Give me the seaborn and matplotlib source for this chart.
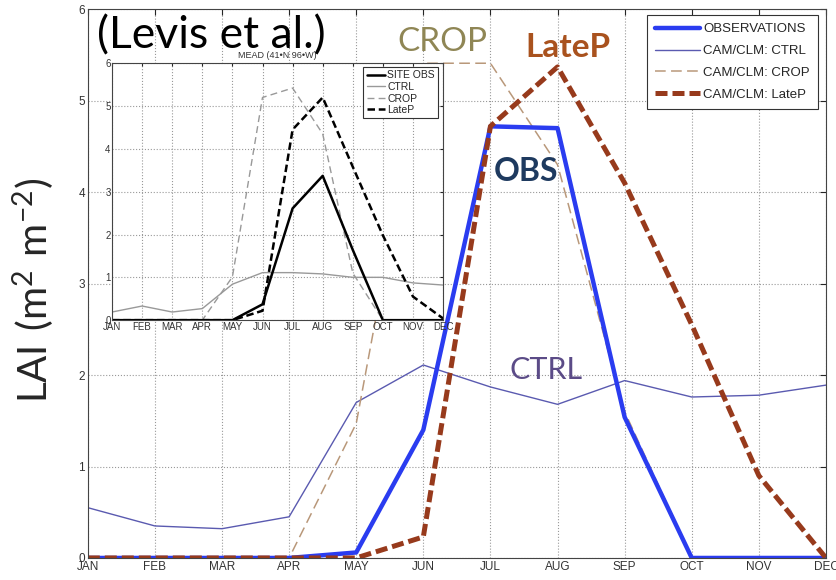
import seaborn as sns
import matplotlib.pyplot as plt
import pandas as pd
from matplotlib.transforms import Bbox, TransformedBbox

months = ['JAN', 'FEB', 'MAR', 'APR', 'MAY', 'JUN', 'JUL', 'AUG', 'SEP', 'OCT', 'NOV', 'DEC']

# main panel (CAM/CLM vs observations)
obs = [0, 0, 0, 0, 0.06, 1.40, 4.72, 4.70, 1.54, 0, 0, 0]
ctrl = [0.55, 0.35, 0.32, 0.45, 1.70, 2.11, 1.87, 1.68, 1.94, 1.76, 1.78, 1.89]
crop = [0, 0, 0, 0, 1.47, 5.41, 5.41, 4.30, 1.60, 0, 0, 0]
latep = [0, 0, 0, 0, 0, 0.23, 4.72, 5.37, 4.10, 2.55, 0.90, 0]

# inset (MEAD site)
site_obs = [0, 0, 0, 0, 0, 0.37, 2.61, 3.37, 1.64, 0, 0, 0]
site_ctrl = [0.19, 0.33, 0.19, 0.27, 0.84, 1.11, 1.11, 1.08, 1.00, 1.00, 0.87, 0.82]
site_crop = [0, 0, 0, 0, 1.01, 5.20, 5.42, 4.35, 1.10, 0, 0, 0]
site_latep = [0, 0, 0, 0, 0, 0.22, 4.45, 5.20, 3.58, 1.98, 0.55, 0.04]

df = pd.DataFrame({'m': range(12), 'obs': obs, 'ctrl': ctrl, 'crop': crop, 'latep': latep})
site = pd.DataFrame({'m': range(12), 'obs': site_obs, 'ctrl': site_ctrl,
                     'crop': site_crop, 'latep': site_latep})

sns.set_style('white')
plt.rcParams['font.family'] = ['Liberation Sans', 'DejaVu Sans']
plt.rcParams['mathtext.fontset'] = 'custom'
plt.rcParams['mathtext.rm'] = 'Lato'

fig = plt.figure(figsize=(8.36, 5.8), dpi=100)
ax = fig.add_axes([0.105, 0.038, 0.883, 0.946])


def matlab_axes(a, size, ticklen):
    a.set_xlim(0, 11)
    a.set_ylim(0, 6)
    a.set_xticks(range(12))
    a.set_xticklabels(months)
    a.set_yticks(range(7))
    a.set_xlabel('')
    a.set_ylabel('')
    a.grid(True, linestyle=':', color='#999999', linewidth=0.8)
    a.tick_params(direction='in', top=True, right=True, length=ticklen, width=0.8,
                  labelsize=size, labelcolor='#333333', pad=2)
    for s in a.spines.values():
        s.set_color('#444444')
        s.set_linewidth(0.8)


# main curves
sns.lineplot(data=df, x='m', y='ctrl', ax=ax, color='#5a5ab0', lw=1.0, label='CAM/CLM: CTRL')
sns.lineplot(data=df, x='m', y='crop', ax=ax, color='#b9987a', lw=1.1, label='CAM/CLM: CROP')
ax.lines[-1].set_dashes((7, 3.5))
sns.lineplot(data=df, x='m', y='obs', ax=ax, color='#2a3cf0', lw=3.2, label='OBSERVATIONS')
sns.lineplot(data=df, x='m', y='latep', ax=ax, color='#973a1c', lw=3.6, label='CAM/CLM: LateP')
ax.lines[-1].set_dashes((2.4, 1.0))
matlab_axes(ax, 8.5, 4)

h, l = ax.get_legend_handles_labels()
order = [l.index(k) for k in ['OBSERVATIONS', 'CAM/CLM: CTRL', 'CAM/CLM: CROP', 'CAM/CLM: LateP']]
leg = ax.legend([h[i] for i in order], [l[i] for i in order], loc='upper right',
                bbox_to_anchor=(0.989, 0.989), borderaxespad=0, fontsize=9.5,
                handlelength=3.4, fancybox=False, framealpha=1, edgecolor='#333333',
                labelspacing=0.72, borderpad=0.6, handletextpad=0.25)
leg.get_frame().set_linewidth(0.8)

# labels on the curves
lato = ['Lato', 'DejaVu Sans']
t = ax.text(5.28, 5.64, 'CROP', color='#8f8655', fontsize=24, family=lato,
            ha='center', va='center', zorder=6, clip_on=True)
t.set_clip_box(TransformedBbox(Bbox([[0, 0], [1, 0.955]]), fig.transFigure))
ax.text(7.16, 5.58, 'LateP', color='#a9521e', fontsize=24, fontweight='bold', family=lato,
        ha='center', va='center', zorder=6)
ax.text(6.53, 4.23, 'OBS', color='#1e3a5f', fontsize=23, fontweight='bold', family=lato,
        ha='center', va='center', zorder=6)
ax.text(6.83, 2.05, 'CTRL', color='#5b4b87', fontsize=22, family=lato,
        ha='center', va='center', zorder=6)

fig.text(0.116, 0.938, '(Levis et al.)', fontsize=32, family=lato, color='black',
         ha='left', va='center', zorder=10)
fig.text(0.04, 0.5, r'$\mathrm{LAI\ (m^{2}\ m^{-2})}$', fontsize=29, rotation=90,
         ha='center', va='center')

# inset
ins = fig.add_axes([0.134, 0.448, 0.396, 0.443])
ins.set_facecolor('white')
sns.lineplot(data=site, x='m', y='ctrl', ax=ins, color='#999999', lw=1.0, label='CTRL')
sns.lineplot(data=site, x='m', y='crop', ax=ins, color='#999999', lw=1.0, label='CROP')
ins.lines[-1].set_dashes((5, 3))
sns.lineplot(data=site, x='m', y='obs', ax=ins, color='black', lw=1.8, label='SITE OBS')
sns.lineplot(data=site, x='m', y='latep', ax=ins, color='black', lw=1.8, label='LateP')
ins.lines[-1].set_dashes((3, 1.5))
matlab_axes(ins, 7, 2.5)
ins.tick_params(pad=1)
ins.set_title('MEAD (41•N 96•W)', fontsize=6.5, pad=4, color='#333333')

h, l = ins.get_legend_handles_labels()
order = [l.index(k) for k in ['SITE OBS', 'CTRL', 'CROP', 'LateP']]
leg2 = ins.legend([h[i] for i in order], [l[i] for i in order], loc='upper right',
                  bbox_to_anchor=(0.985, 0.984), borderaxespad=0, fontsize=7.5,
                  handlelength=1.8, fancybox=False, framealpha=1, edgecolor='#333333',
                  labelspacing=0.15, borderpad=0.3, handletextpad=0.2)
leg2.get_frame().set_linewidth(0.8)

fig.savefig('out.png', dpi=100)
